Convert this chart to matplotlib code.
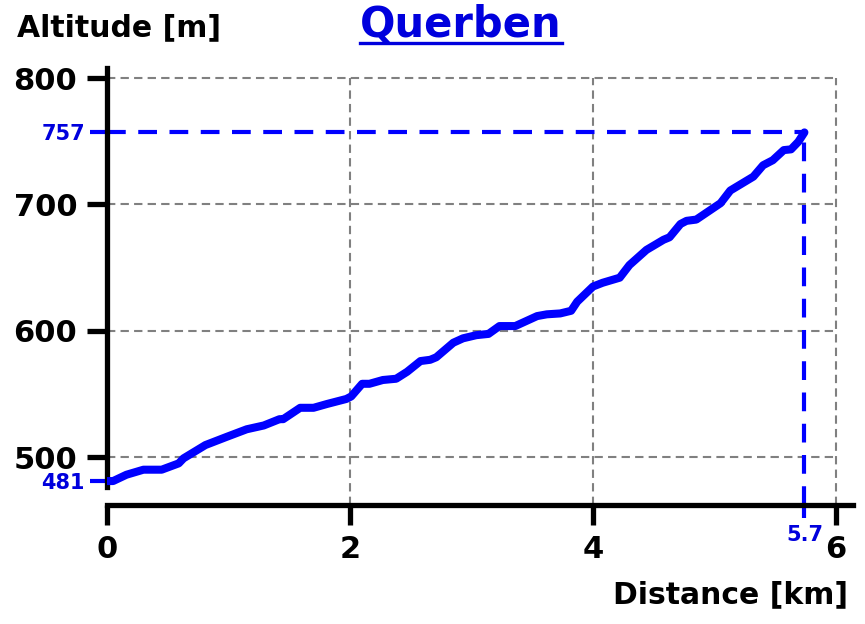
import matplotlib
matplotlib.use("Agg")
import matplotlib.pyplot as plt
from matplotlib.lines import Line2D

# ---- data ----
distance_km = [0.00, 0.05, 0.16, 0.30, 0.45, 0.59, 0.63, 0.81, 0.985, 1.15, 1.29, 1.42, 1.45,
               1.59, 1.70, 1.81, 1.97, 2.01, 2.10, 2.16, 2.27, 2.38, 2.47, 2.58, 2.66, 2.71,
               2.85, 2.93, 3.04, 3.14, 3.23, 3.36, 3.54, 3.62, 3.73, 3.82, 3.87, 4.00, 4.08,
               4.22, 4.30, 4.44, 4.58, 4.63, 4.72, 4.77, 4.85, 5.05, 5.13, 5.32, 5.40, 5.48,
               5.57, 5.63, 5.69, 5.74]
altitude_m = [481, 481, 486, 490, 490, 495, 499, 509.5, 516, 522, 525, 530, 530,
              539, 539, 542, 546, 548, 558, 558, 561, 562, 567.5, 576, 577, 579,
              590.5, 594, 596.5, 597.5, 603.7, 603.7, 611.6, 613, 613.7, 615.8, 623, 635, 638,
              642, 652, 664, 672, 674, 684.5, 687, 688, 701, 711, 722, 731, 735,
              743, 743.6, 749.6, 757]
x_ticks = [0, 2, 4, 6]
y_ticks = [500, 600, 700, 800]
title = "Querben"
x_label = "Distance [km]"
y_label = "Altitude [m]"

BLUE = "#0000ff"
LBLUE = "#0000dd"

W, H = 865, 624
fig = plt.figure(figsize=(W / 100, H / 100), dpi=100)
plt.rcParams['font.family'] = ['DejaVu Sans']

x0, x1 = 107, 853
ytop, ybot = 68, 487
ax = fig.add_axes([x0 / W, 1 - ybot / H, (x1 - x0) / W, (ybot - ytop) / H])
ax.set_xlim(0, 6.14)
ax.set_ylim(476.3, 808)

offset_px = 18
ylow_ext = 476.3 - offset_px / 1.2633
for yv in y_ticks:
    ax.plot([0, 6], [yv, yv], color="gray", lw=1.5, ls=(0, (4, 2.5)), zorder=1)
for xv in x_ticks[1:]:
    ax.plot([xv, xv], [ylow_ext, 800], color="gray", lw=1.5, ls=(0, (4, 2.5)),
            zorder=1, clip_on=False)

# profile
ax.plot(distance_km, altitude_m, color=BLUE, lw=5.8, solid_capstyle="round",
        solid_joinstyle="round", zorder=3)

end_x, end_y = distance_km[-1], altitude_m[-1]
start_y = altitude_m[0]
ax.plot([0, end_x], [end_y, end_y], color=BLUE, lw=3, ls=(0, (4.5, 3)), zorder=2)
ax.plot([end_x, end_x], [ylow_ext, end_y], color=BLUE, lw=3, ls=(0, (4.5, 3)),
        zorder=2, clip_on=False)

# spines
for s in ["top", "right"]:
    ax.spines[s].set_visible(False)
ax.spines["left"].set_linewidth(3.8)
ax.spines["bottom"].set_linewidth(3.8)
ax.spines["bottom"].set_position(("outward", offset_px * 0.72))

ax.set_xticks(x_ticks)
ax.set_yticks(y_ticks)
ax.set_xticklabels([str(v) for v in x_ticks])
ax.set_yticklabels([str(v) for v in y_ticks])
ax.tick_params(which="major", length=14.5, width=3.8, labelsize=22, pad=7)
for lbl in ax.get_xticklabels() + ax.get_yticklabels():
    lbl.set_fontweight("bold")
ax.tick_params(axis="x", which="major", pad=7)

ax.set_yticks([start_y, end_y], minor=True)
ax.set_yticklabels([f"{start_y:.0f}", f"{end_y:.0f}"], minor=True)
ax.set_xticks([end_x], minor=True)
ax.set_xticklabels([f"{end_x:.1f}"], minor=True)
ax.tick_params(axis="y", which="minor", length=12, width=3, color=BLUE,
               labelcolor=LBLUE, labelsize=15, pad=4)
ax.tick_params(axis="x", which="minor", length=9.5, width=3, color=BLUE,
               labelcolor=LBLUE, labelsize=15, pad=5)
for lbl in ax.get_xticklabels(minor=True) + ax.get_yticklabels(minor=True):
    lbl.set_fontweight("bold")

# texts
fig.text(17 / W, 1 - 28 / H, y_label, fontsize=21.5, fontweight="bold",
         ha="left", va="center")
fig.text(848 / W, 1 - 595 / H, x_label, fontsize=21.5, fontweight="bold",
         ha="right", va="center")
t = fig.text(461 / W, 1 - 25 / H, title, fontsize=30, fontweight="bold",
             color=LBLUE, ha="center", va="center")

fig.canvas.draw()
bb = t.get_window_extent(fig.canvas.get_renderer())
uy = 1 - 43 / H
fig.add_artist(Line2D([bb.x0 / W, bb.x1 / W], [uy, uy], color=LBLUE, lw=2.4,
                      transform=fig.transFigure))

fig.savefig("out.png", dpi=100)
